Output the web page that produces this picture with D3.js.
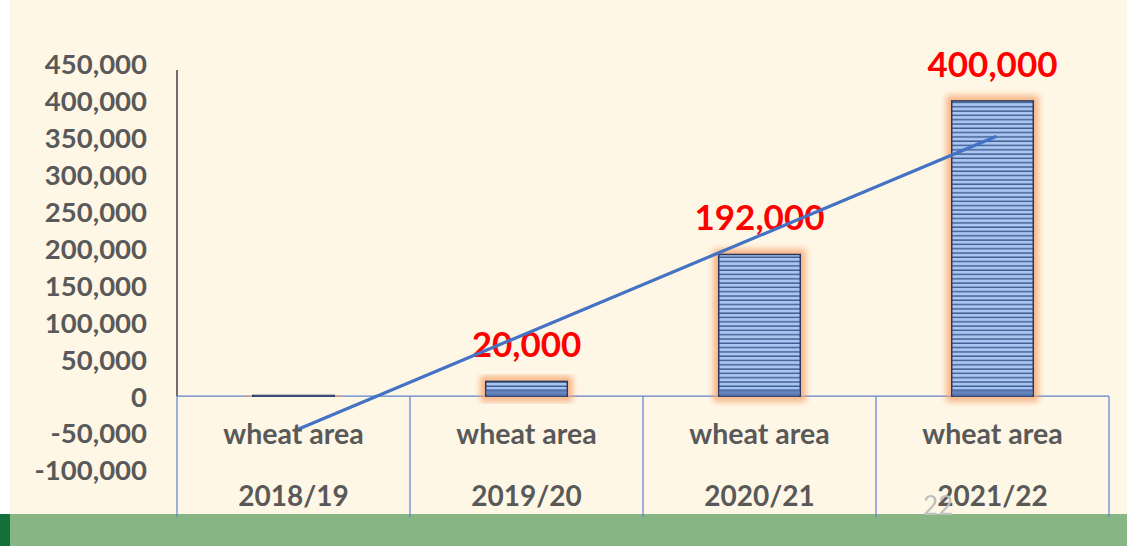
<!DOCTYPE html>
<html>
<head>
<meta charset="utf-8">
<script src="https://cdn.jsdelivr.net/npm/d3@7"></script>
<style>
  html, body { margin: 0; padding: 0; background: #fff; }
  svg { display: block; }
</style>
</head>
<body>
<div id="chart"></div>
<script>
var seasons = ["2018/19", "2019/20", "2020/21", "2021/22"];
var rowLabel = "wheat area";
var wheatArea = [1000, 20000, 192000, 400000];
var valueLabels = ["", "20,000", "192,000", "400,000"];
var trendValues = [-45000, 352000];   // trendline ends
var yTicks = [-100000, -50000, 0, 50000, 100000, 150000, 200000, 250000, 300000, 350000, 400000, 450000];
var yTickLabels = ["-100,000", "-50,000", "0", "50,000", "100,000", "150,000", "200,000", "250,000", "300,000", "350,000", "400,000", "450,000"];
var slideNumber = "22";

var W = 1127, H = 546;
var font = "Lato, 'Open Sans', sans-serif";

var svg = d3.select("#chart").append("svg")
    .attr("width", W)
    .attr("height", H);

var defs = svg.append("defs");

// striped bar fill
var pat = defs.append("pattern")
    .attr("id", "stripes")
    .attr("patternUnits", "userSpaceOnUse")
    .attr("width", 10)
    .attr("height", 4.3);
pat.append("rect").attr("width", 10).attr("height", 4.3).attr("fill", "#a9c5f0");
pat.append("rect").attr("y", 2.9).attr("width", 10).attr("height", 1.4).attr("fill", "#3f5c92");

var glow = defs.append("filter").attr("id", "glow")
    .attr("x", "-50%").attr("y", "-50%").attr("width", "200%").attr("height", "200%");
glow.append("feGaussianBlur").attr("stdDeviation", 3);

// background
svg.append("rect").attr("x", 10).attr("y", 0).attr("width", W - 10).attr("height", H).attr("fill", "#fff7e6");
svg.append("rect").attr("x", 0).attr("y", 514).attr("width", W).attr("height", H - 514).attr("fill", "#88b584");
svg.append("rect").attr("x", 0).attr("y", 514).attr("width", 10).attr("height", H - 514).attr("fill", "#13703a");

var x = d3.scaleBand().domain(seasons).range([177, 1109]).paddingInner(0.65).paddingOuter(0.325);
var xc = d3.scaleBand().domain(seasons).range([177, 1109]);
var y = d3.scaleLinear().domain([-100000, 450000]).range([470, 64]);

// y axis labels
var yAxis = svg.append("g")
    .attr("transform", "translate(147,0)")
    .call(d3.axisLeft(y).tickValues(yTicks).tickSize(0).tickPadding(0)
        .tickFormat(function(d, i) { return yTickLabels[i]; }));
yAxis.select(".domain").remove();
yAxis.selectAll("text")
    .attr("dy", "0.36em")
    .style("font-family", font)
    .style("font-weight", "700")
    .style("font-size", "27.5px")
    .attr("fill", "#595959");

// y axis line (positive part)
svg.append("line")
    .attr("x1", 177).attr("x2", 177)
    .attr("y1", y(450000) + 6).attr("y2", y(0))
    .attr("stroke", "#404040").attr("stroke-width", 1.5);

// category table grid
var grid = svg.append("g").attr("stroke", "#5b82cc").attr("stroke-width", 1.2);
grid.append("line")
    .attr("x1", 177).attr("x2", 1109)
    .attr("y1", y(0)).attr("y2", y(0));
grid.selectAll(".vline")
    .data(seasons.concat(["end"]))
    .enter().append("line")
    .attr("class", "vline")
    .attr("x1", function(d, i) { return i < seasons.length ? xc(d) : xc.range()[1]; })
    .attr("x2", function(d, i) { return i < seasons.length ? xc(d) : xc.range()[1]; })
    .attr("y1", y(0)).attr("y2", 517);

// bars
var bars = svg.append("g");
bars.selectAll(".glow")
    .data(wheatArea)
    .enter().append("rect")
    .attr("x", function(d, i) { return x(seasons[i]); })
    .attr("y", function(d) { return y(d); })
    .attr("width", x.bandwidth())
    .attr("height", function(d) { return y(0) - y(d); })
    .attr("fill", "none")
    .attr("stroke", "#f4a470")
    .attr("stroke-width", 11)
    .attr("opacity", 0.8)
    .attr("filter", "url(#glow)");

bars.selectAll(".bar")
    .data(wheatArea)
    .enter().append("rect")
    .attr("x", function(d, i) { return x(seasons[i]); })
    .attr("y", function(d) { return y(d); })
    .attr("width", x.bandwidth())
    .attr("height", function(d) { return y(0) - y(d); })
    .attr("fill", "url(#stripes)")
    .attr("stroke", "#2a3a5c")
    .attr("stroke-width", 1.5);

// darker base strip on each bar
bars.selectAll(".base")
    .data(wheatArea)
    .enter().append("rect")
    .attr("x", function(d, i) { return x(seasons[i]) + 1; })
    .attr("y", function(d) { return Math.max(y(d), y(0) - 7); })
    .attr("width", x.bandwidth() - 2)
    .attr("height", function(d) { return Math.min(y(0) - y(d), 7); })
    .attr("fill", "#5574b0")
    .attr("opacity", 0.8);

// value labels
svg.selectAll(".vlabel")
    .data(wheatArea)
    .enter().append("text")
    .attr("x", function(d, i) { return x(seasons[i]) + x.bandwidth() / 2; })
    .attr("y", function(d) { return y(d) - 24; })
    .attr("text-anchor", "middle")
    .style("font-family", font)
    .style("font-weight", "700")
    .style("font-size", "35px")
    .attr("fill", "#ff0000")
    .text(function(d, i) { return valueLabels[i]; });

// trendline
var trend = d3.line()
    .x(function(d, i) { return xc(seasons[i * 3]) + xc.bandwidth() / 2 + 4; })
    .y(function(d) { return y(d); });
svg.append("path")
    .datum(trendValues)
    .attr("d", trend)
    .attr("fill", "none")
    .attr("stroke", "#4472c4")
    .attr("stroke-width", 3.2);

// category labels
var cats = svg.append("g");
cats.selectAll(".row")
    .data(seasons)
    .enter().append("text")
    .attr("x", function(d) { return xc(d) + xc.bandwidth() / 2; })
    .attr("y", 444)
    .attr("text-anchor", "middle")
    .style("font-family", font)
    .style("font-weight", "700")
    .style("font-size", "28.5px")
    .attr("fill", "#595959")
    .text(rowLabel);
cats.selectAll(".season")
    .data(seasons)
    .enter().append("text")
    .attr("x", function(d) { return xc(d) + xc.bandwidth() / 2; })
    .attr("y", 506)
    .attr("text-anchor", "middle")
    .style("font-family", font)
    .style("font-weight", "700")
    .style("font-size", "28px")
    .attr("fill", "#595959")
    .text(function(d) { return d; });

svg.append("text")
    .attr("x", 938).attr("y", 515)
    .attr("text-anchor", "middle")
    .style("font-family", font)
    .style("font-size", "26px")
    .attr("fill", "#bfbfbf")
    .text(slideNumber);
</script>
</body>
</html>
